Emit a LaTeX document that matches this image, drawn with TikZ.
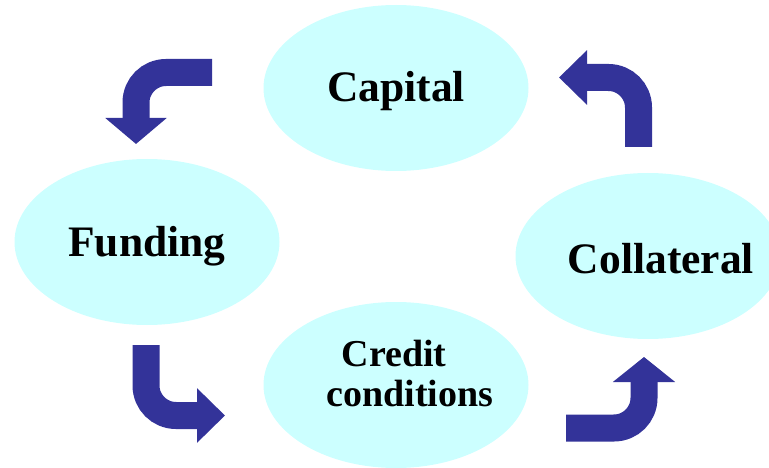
\documentclass[tikz,border=0pt]{standalone}
\usepackage{fontspec}
\setmainfont{Liberation Serif}
\usetikzlibrary{shapes.geometric,arrows.meta,positioning}
\definecolor{bubblecyan}{HTML}{CCFFFF}
\definecolor{loopblue}{HTML}{333399}

\begin{document}
\begin{tikzpicture}[x=1pt,y=-1pt,
		bubble/.style={ellipse,fill=bubblecyan,minimum width=265pt,minimum height=166pt,inner sep=0pt},
		bigtext/.style={font=\fontsize{43.5}{48}\selectfont\bfseries},
		smalltext/.style={font=\fontsize{38}{40}\selectfont\bfseries,align=center},
		looparrow/.style={draw=loopblue,line width=27pt,rounded corners=30pt}]
		\useasboundingbox (0,0) rectangle (769,468);
		% the four stages
		\node[bubble,label={[bigtext,yshift=-3pt]center:Capital}] (capital) at (396,88) {};
		\node[bubble,label={[bigtext,yshift=-4pt]center:Funding}] (funding) at (147,242) {};
		\node[bubble,label={[bigtext,xshift=13pt,yshift=-3pt]center:Collateral}] (collateral) at (648,256) {};
		\node[bubble,label={[smalltext,xshift=14pt,yshift=11pt]center:Credit\hspace*{32pt}\\conditions}] (credit) at (396,385) {};
		% arrow ends
		\coordinate (capfrom) at (212,72.5);
		\coordinate (funto) at (136,144);
		\coordinate (funfrom) at (146,345);
		\coordinate (creto) at (225,415.5);
		\coordinate (crefrom) at (566,428);
		\coordinate (colto) at (644,357);
		\coordinate (colfrom) at (638.5,147);
		\coordinate (capto) at (559,77.5);
		% curved block arrows
		\draw[looparrow,-{Triangle[width=60pt,length=26pt]}] (capfrom) -| (funto);
		\draw[looparrow,-{Triangle[width=53pt,length=28pt]}] (funfrom) |- (creto);
		\draw[looparrow,-{Triangle[width=61pt,length=25pt]}] (crefrom) -| (colto);
		\draw[looparrow,-{Triangle[width=53pt,length=28pt]}] (colfrom) |- (capto);
	\end{tikzpicture}
\end{document}
